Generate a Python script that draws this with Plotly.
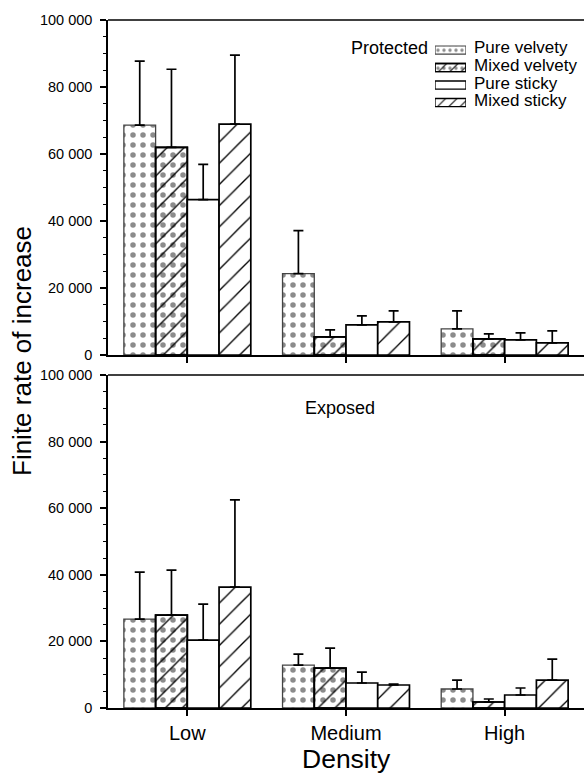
import plotly.graph_objects as go

# ---------------- data ----------------
categories = ["Low", "Medium", "High"]
series = ["Pure velvety", "Mixed velvety", "Pure sticky", "Mixed sticky"]

# Protected panel: means and standard errors
prot_pure_velvety = [68600, 24300, 7800]
prot_mixed_velvety = [62000, 5400, 4800]
prot_pure_sticky = [46400, 9000, 4500]
prot_mixed_sticky = [68900, 9900, 3600]
prot_pure_velvety_se = [19100, 12800, 5400]
prot_mixed_velvety_se = [23300, 2100, 1500]
prot_pure_sticky_se = [10500, 2700, 2100]
prot_mixed_sticky_se = [20600, 3300, 3600]

# Exposed panel: means and standard errors
exp_pure_velvety = [26700, 12900, 5700]
exp_mixed_velvety = [27900, 12000, 1800]
exp_pure_sticky = [20400, 7500, 3900]
exp_mixed_sticky = [36300, 6900, 8400]
exp_pure_velvety_se = [14100, 3300, 2700]
exp_mixed_velvety_se = [13500, 6000, 900]
exp_pure_sticky_se = [10800, 3300, 2100]
exp_mixed_sticky_se = [26200, 300, 6300]

y_tick_vals = [0, 20000, 40000, 60000, 80000, 100000]
y_tick_text = ["0", "20 000", "40 000", "60 000", "80 000", "100 000"]

# ---------------- layout geometry (page pixels) ----------------
W, H = 584, 775
PLOT_L, PLOT_R, PLOT_T, PLOT_B = 108, 584, 20, 708
ML, MR, MT, MB = PLOT_L, W - PLOT_R, PLOT_T, H - PLOT_B
PW, PH = W - ML - MR, H - MT - MB


def px_x(px):
    return (px - ML) / PW


def px_y(py):
    return (H - MB - py) / PH


FONT = "Liberation Sans, Arial, Helvetica, sans-serif"
STIP = dict(shape=".", fgcolor="#8c8c8c", bgcolor="white", fgopacity=1, size=10, solidity=0.24)
HATCH_MV = dict(shape="/", fgcolor="black", bgcolor="rgba(0,0,0,0)", fgopacity=1, size=12, solidity=0.11)
HATCH_MS = dict(shape="/", fgcolor="black", bgcolor="white", fgopacity=1, size=15, solidity=0.09)

BAR_W = 0.2
offsets = [-0.4, -0.2, 0.0, 0.2]

fig = go.Figure()

panels = [
    ("x", "y", [prot_pure_velvety, prot_mixed_velvety, prot_pure_sticky, prot_mixed_sticky],
     [prot_pure_velvety_se, prot_mixed_velvety_se, prot_pure_sticky_se, prot_mixed_sticky_se]),
    ("x2", "y2", [exp_pure_velvety, exp_mixed_velvety, exp_pure_sticky, exp_mixed_sticky],
     [exp_pure_velvety_se, exp_mixed_velvety_se, exp_pure_sticky_se, exp_mixed_sticky_se]),
]


def err(se):
    return dict(type="data", array=se, arrayminus=[0] * len(se), symmetric=False,
                color="black", thickness=1.7, width=5)


for xa, ya, vals, ses in panels:
    for i, name in enumerate(series):
        if i == 0:
            marker = dict(color="white", pattern=STIP, line=dict(color="#444444", width=1.3))
        elif i == 1:
            marker = dict(color="white", pattern=STIP, line=dict(color="black", width=1.7))
        elif i == 2:
            marker = dict(color="white", line=dict(color="black", width=1.7))
        else:
            marker = dict(color="white", pattern=HATCH_MS, line=dict(color="black", width=1.7))
        marker["opacity"] = 1
        fig.add_trace(go.Bar(x=categories, y=vals[i], width=BAR_W, offset=offsets[i],
                             marker=marker, error_y=err(ses[i]), xaxis=xa, yaxis=ya,
                             name=name, showlegend=False))
        if i == 1:
            fig.add_trace(go.Bar(x=categories, y=vals[i], width=BAR_W, offset=offsets[i],
                                 marker=dict(color="rgba(0,0,0,0)", pattern=HATCH_MV, opacity=1,
                                             line=dict(color="black", width=1.7)),
                                 xaxis=xa, yaxis=ya, name=name, showlegend=False,
                                 hoverinfo="skip"))

# ---------------- manual legend (swatches on a hidden axis) ----------------
leg_rows = list(range(len(series)))
LEG_STIP = dict(shape=".", fgcolor="#8c8c8c", bgcolor="white", fgopacity=1, size=6, solidity=0.25)
swatch_styles = [
    [dict(color="white", opacity=1, pattern=LEG_STIP, line=dict(color="#444444", width=1.2))],
    [dict(color="white", opacity=1, pattern=LEG_STIP, line=dict(color="black", width=1.3)),
     dict(color="rgba(0,0,0,0)", opacity=1,
          pattern=dict(shape="/", fgcolor="black", bgcolor="rgba(0,0,0,0)", fgopacity=1,
                       size=8, solidity=0.14),
          line=dict(color="black", width=1.3))],
    [dict(color="white", opacity=1, line=dict(color="black", width=1.3))],
    [dict(color="white", opacity=1,
          pattern=dict(shape="/", fgcolor="black", bgcolor="white", fgopacity=1, size=8, solidity=0.13),
          line=dict(color="black", width=1.3))],
]
for r, styles in zip(leg_rows, swatch_styles):
    for m in styles:
        fig.add_trace(go.Bar(y=[r], x=[1], base=0, orientation="h", width=0.46, marker=m,
                             xaxis="x3", yaxis="y3", showlegend=False, hoverinfo="skip"))

ROW0, ROWSTEP = 50, 17.5
annotations = []
for r, name in zip(leg_rows, series):
    annotations.append(dict(text=name, x=px_x(472), y=px_y(ROW0 - 2 + ROWSTEP * r), xref="paper",
                            yref="paper", xanchor="left", yanchor="middle", showarrow=False,
                            font=dict(size=17, color="black", family=FONT)))

annotations += [
    dict(text="Protected", x=px_x(389), y=px_y(48), xref="paper", yref="paper",
         xanchor="center", yanchor="middle",
         showarrow=False, font=dict(size=18, color="black", family=FONT)),
    dict(text="Exposed", x=px_x(340), y=px_y(408), xref="paper", yref="paper",
         xanchor="center", yanchor="middle",
         showarrow=False, font=dict(size=18, color="black", family=FONT)),
    dict(text="Finite rate of increase", x=px_x(22), y=px_y(351), xref="paper", yref="paper",
         xanchor="center", yanchor="middle",
         textangle=-90, showarrow=False, font=dict(size=26, color="black", family=FONT)),
    dict(text="Density", x=px_x(346), y=px_y(759), xref="paper", yref="paper",
         xanchor="center", yanchor="middle",
         showarrow=False, font=dict(size=26.5, color="black", family=FONT)),
]

yaxis_common = dict(range=[0, 100000], tickmode="array", tickvals=y_tick_vals, ticktext=y_tick_text,
                    ticks="outside", ticklen=6, tickwidth=1.5, tickcolor="black",
                    ticklabelstandoff=5,
                    showline=True, linecolor="black", linewidth=1.5, showgrid=False, zeroline=False,
                    tickfont=dict(size=14.5, color="black", family=FONT),
                    minor=dict(tickmode="linear", tick0=0, dtick=5000, ticks="outside", ticklen=3,
                               tickwidth=1.2, tickcolor="black"))
xaxis_common = dict(range=[-0.5, 2.5], type="category", ticks="outside", ticklen=6, tickwidth=1.5,
                    tickcolor="black", showline=True, linecolor="black", linewidth=1.5,
                    showgrid=False, zeroline=False, tickfont=dict(size=20, color="black", family=FONT))

fig.update_layout(
    width=W, height=H,
    margin=dict(l=ML, r=MR, t=MT, b=MB),
    plot_bgcolor="white", paper_bgcolor="white",
    barmode="overlay",
    showlegend=False,
    font=dict(family=FONT, color="black"),
    xaxis=dict(domain=[0, 1], anchor="y", showticklabels=False, **xaxis_common),
    yaxis=dict(domain=[px_y(355), 1], anchor="x", **yaxis_common),
    xaxis2=dict(domain=[0, 1], anchor="y2", **xaxis_common),
    yaxis2=dict(domain=[0, px_y(375)], anchor="x2", **yaxis_common),
    xaxis3=dict(domain=[px_x(435), px_x(466)], anchor="y3", range=[0, 1], visible=False,
                fixedrange=True),
    yaxis3=dict(domain=[px_y(ROW0 + ROWSTEP * 3.5), px_y(ROW0 - ROWSTEP * 0.5)], anchor="x3",
                range=[3.5, -0.5], visible=False, fixedrange=True),
    annotations=annotations,
    shapes=[
        dict(type="line", xref="x domain", yref="y domain", x0=0, x1=1, y0=1, y1=1,
             line=dict(color="black", width=1.5)),
        dict(type="line", xref="x2 domain", yref="y2 domain", x0=0, x1=1, y0=1, y1=1,
             line=dict(color="black", width=1.5)),
    ],
)

# remove the browser's default 8px page margin so the figure sits at the window origin
fig.write_html("out.html", config={"displayModeBar": False},
               post_script="document.body.style.margin='0px';document.body.style.overflow='hidden';")
